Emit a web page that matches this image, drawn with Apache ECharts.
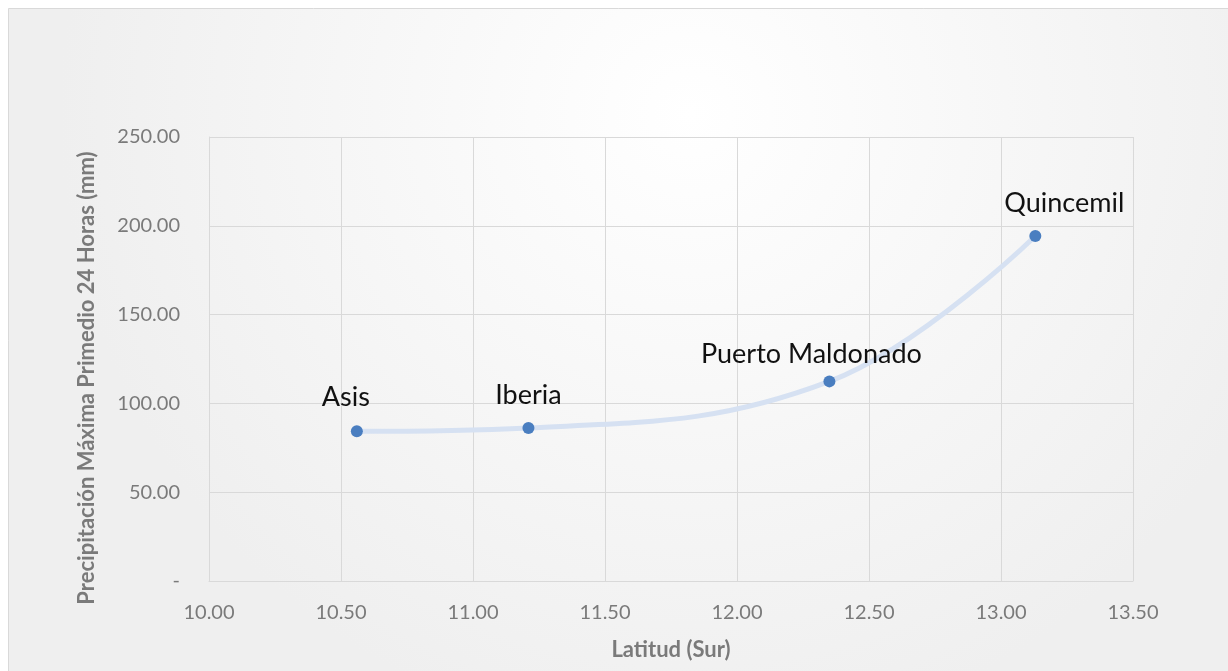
<!DOCTYPE html>
<html>
<head>
<meta charset="utf-8">
<script src="https://cdn.jsdelivr.net/npm/echarts@6/dist/echarts.min.js"></script>
<style>
  html, body { margin: 0; padding: 0; background: #ffffff; }
  #chart { width: 1228px; height: 671px; }
</style>
</head>
<body>
<div id="chart"></div>
<script>
// Estaciones y sus valores
const stations = ['Asis', 'Iberia', 'Puerto Maldonado', 'Quincemil'];
const latitude = [10.56, 11.21, 12.35, 13.13];
const precipitation = [84.3, 86.2, 112.4, 194.3];

const xTitle = 'Latitud (Sur)';
const yTitle = 'Precipitación Máxima Primedio 24 Horas (mm)';

// Desplazamiento manual de cada etiqueta (px)
const labelShift = {
  'Asis': [-11, -9],
  'Iberia': [0, -8],
  'Puerto Maldonado': [-18, -3],
  'Quincemil': [29, -8]
};

const FONT = 'Lato, "Open Sans", sans-serif';
const GRID_COLOR = '#d9d9d9';
const TEXT_GRAY = '#7a7a7a';

const points = stations.map((name, i) => ({
  name: name,
  value: [latitude[i], precipitation[i]],
  label: { offset: labelShift[name] }
}));

const chart = echarts.init(document.getElementById('chart'), null, { renderer: 'canvas' });

chart.setOption({
  animation: false,
  backgroundColor: '#ffffff',
  graphic: [{
    type: 'rect',
    z: -10,
    silent: true,
    shape: { x: 8.5, y: 8.5, width: 1240, height: 700 },
    style: {
      fill: {
        type: 'radial', x: 0.55, y: 0.15, r: 0.9,
        colorStops: [
          { offset: 0, color: '#ffffff' },
          { offset: 1, color: '#efefef' }
        ]
      },
      stroke: GRID_COLOR,
      lineWidth: 1
    }
  }],
  grid: { left: 209, top: 137, right: 95, bottom: 90 },
  xAxis: {
    type: 'value',
    min: 10, max: 13.5, interval: 0.5,
    name: xTitle,
    nameLocation: 'middle',
    nameGap: 58,
    nameTextStyle: { fontFamily: FONT, fontSize: 22, fontWeight: 'bold', color: TEXT_GRAY },
    axisLine: { show: true, lineStyle: { color: GRID_COLOR, width: 1 } },
    axisTick: { show: false },
    axisLabel: {
      fontFamily: FONT, fontSize: 20, color: TEXT_GRAY, margin: 22,
      formatter: v => v.toFixed(2)
    },
    splitLine: { show: true, lineStyle: { color: GRID_COLOR, width: 1 } }
  },
  yAxis: {
    type: 'value',
    min: 0, max: 250, interval: 50,
    name: yTitle,
    nameLocation: 'middle',
    nameGap: 111,
    nameTextStyle: {
      fontFamily: FONT, fontSize: 22, fontWeight: 'bold', color: TEXT_GRAY,
      padding: [0, 38, 0, 0]
    },
    axisLine: { show: true, lineStyle: { color: GRID_COLOR, width: 1 } },
    axisTick: { show: false },
    axisLabel: {
      fontFamily: FONT, fontSize: 20, color: TEXT_GRAY, margin: 29,
      formatter: v => (v === 0 ? '-' : v.toFixed(2))
    },
    splitLine: { show: true, lineStyle: { color: GRID_COLOR, width: 1 } }
  },
  series: [{
    type: 'line',
    data: points,
    smooth: 0.4,
    symbol: 'circle',
    symbolSize: 12,
    lineStyle: { color: '#d6e1f2', width: 5 },
    itemStyle: { color: '#4a7ec0' },
    label: {
      show: true,
      position: 'top',
      distance: 5,
      formatter: p => p.name,
      fontFamily: FONT,
      fontSize: 27,
      color: '#111111'
    }
  }]
});
</script>
</body>
</html>
